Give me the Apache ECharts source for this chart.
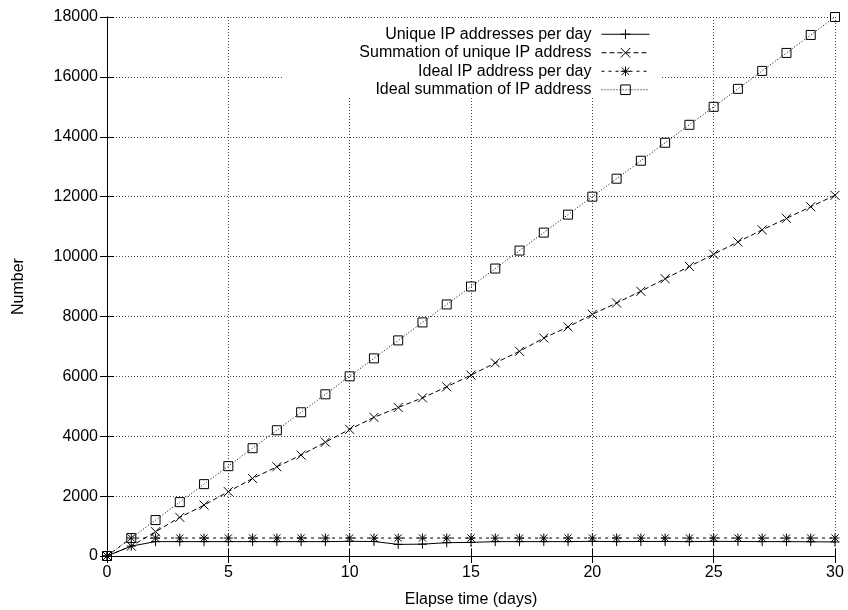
<!DOCTYPE html>
<html>
<head>
<meta charset="utf-8">
<script src="https://cdn.jsdelivr.net/npm/echarts@6/dist/echarts.min.js"></script>
<style>html,body{margin:0;padding:0;background:#fff;}#c{width:848px;height:610px;}</style>
</head>
<body>
<div id="c"></div>
<script>
var days = [0,1,2,3,4,5,6,7,8,9,10,11,12,13,14,15,16,17,18,19,20,21,22,23,24,25,26,27,28,29,30];
var uniquePerDay = [0,330,480,480,480,480,480,480,480,480,490,484,388,396,445,455,480,480,480,480,490,480,485,485,480,490,485,480,480,475,470];
var uniqueSum = [0,330,810,1290,1700,2150,2590,2980,3370,3800,4230,4630,4960,5280,5650,6040,6450,6835,7280,7650,8070,8450,8840,9260,9670,10075,10490,10890,11275,11665,12045];
var idealPerDay = [0,600,600,600,600,600,600,600,600,600,600,600,600,600,600,600,600,600,600,600,600,600,600,600,600,600,600,600,600,600,600];
var idealSum = [0,600,1200,1800,2400,3000,3600,4200,4800,5400,6000,6600,7200,7800,8400,9000,9600,10200,10800,11400,12000,12600,13200,13800,14400,15000,15600,16200,16800,17400,18000];
var seriesNames = ['Unique IP addresses per day','Summation of unique IP address','Ideal IP address per day','Ideal summation of IP address'];

function pairs(vals){ return days.map(function(d,i){ return [d, vals[i]]; }); }

var FONT = 'Liberation Sans';
var SYM_PLUS = 'path://M5,0L5,10M0,5L10,5';
var SYM_X = 'path://M0,0L10,10M0,10L10,0';
var SYM_STAR = 'path://M5,0L5,10M0,5L10,5M1,1L9,9M1,9L9,1';
var SYM_SQ = 'path://M0,0L10,0L10,10L0,10Z';

function mk(name, vals, sym, dash){
  return {
    name: name, type: 'line', data: pairs(vals),
    xAxisIndex: 0, yAxisIndex: 0,
    symbol: sym, symbolSize: 9, showSymbol: true,
    lineStyle: { color: '#000', width: 1, type: dash },
    itemStyle: { color: 'rgba(0,0,0,0)', borderColor: '#000', borderWidth: 1 },
    emphasis: { disabled: true },
    animation: false
  };
}

var chart = echarts.init(document.getElementById('c'));
chart.setOption({
  animation: false,
  backgroundColor: '#fff',
  textStyle: { fontFamily: FONT },
  grid: { left: 107, right: 13, top: 17, bottom: 54, containLabel: false, outerBoundsMode: 'none' },
  graphic: [{ type: 'rect', z: 1, shape: { x: 283, y: 19, width: 377, height: 78 }, style: { fill: '#fff' } }],
  legend: {
    orient: 'vertical', align: 'right', right: 198, top: 25,
    padding: 0, itemWidth: 48, itemHeight: 12, itemGap: 0,
    lineStyle: { width: 1 },
    itemStyle: { borderWidth: 1 },
    textStyle: { fontFamily: FONT, fontSize: 16, lineHeight: 18.5, color: '#000', padding: [0, 5, 0, 0] },
    data: seriesNames
  },
  xAxis: [{
    type: 'value', min: 0, max: 30, interval: 5, z: 0,
    name: 'Elapse time (days)', nameLocation: 'middle', nameGap: 36,
    nameTextStyle: { fontFamily: FONT, fontSize: 16, color: '#000' },
    axisLine: { show: true, lineStyle: { color: '#000', width: 1 } },
    axisTick: { show: true, inside: true, length: 7, lineStyle: { color: '#000' } },
    axisLabel: { fontFamily: FONT, fontSize: 16, color: '#000', margin: 9 },
    splitLine: { show: true, lineStyle: { color: '#444', width: 1, type: [1, 2] } }
  }, {
    type: 'value', min: 0, max: 30, interval: 5, position: 'top', z: 3,
    axisLine: { show: true, lineStyle: { color: '#000', width: 1 } },
    axisTick: { show: true, inside: true, length: 7, lineStyle: { color: '#000' } },
    axisLabel: { show: false }, splitLine: { show: false }
  }],
  yAxis: [{
    type: 'value', min: 0, max: 18000, interval: 2000, z: 0,
    name: 'Number', nameLocation: 'middle', nameGap: 80, nameRotate: 90,
    nameTextStyle: { fontFamily: FONT, fontSize: 16, color: '#000' },
    axisLine: { show: true, lineStyle: { color: '#000', width: 1 } },
    axisTick: { show: true, inside: true, length: 7, lineStyle: { color: '#000' } },
    axisLabel: { fontFamily: FONT, fontSize: 16, color: '#000', margin: 9, formatter: function(v){ return String(v); } },
    splitLine: { show: true, lineStyle: { color: '#444', width: 1, type: [1, 2] } }
  }, {
    type: 'value', min: 0, max: 18000, interval: 2000, position: 'right', z: 3,
    axisLine: { show: true, lineStyle: { color: '#000', width: 1 } },
    axisTick: { show: true, inside: true, length: 7, lineStyle: { color: '#000' } },
    axisLabel: { show: false }, splitLine: { show: false }
  }],
  series: [
    mk(seriesNames[0], uniquePerDay, SYM_PLUS, 'solid'),
    mk(seriesNames[1], uniqueSum, SYM_X, [5, 3]),
    mk(seriesNames[2], idealPerDay, SYM_STAR, [3, 4]),
    mk(seriesNames[3], idealSum, SYM_SQ, [1, 2])
  ]
});
</script>
</body>
</html>
